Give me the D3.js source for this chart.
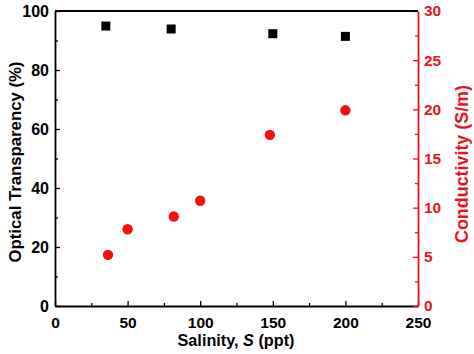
<!DOCTYPE html>
<html>
<head>
<meta charset="utf-8">
<script src="https://cdn.jsdelivr.net/npm/d3@7"></script>
<style>
  body { margin: 0; background: #fff; }
  text { font-family: "Liberation Sans", Arial, sans-serif; font-weight: bold; }
</style>
</head>
<body>
<svg id="chart" width="474" height="354"></svg>
<script>
const transSalinity = [35, 80, 150, 200];
const transparency = [94.9, 93.9, 92.3, 91.4];
const condSalinity = [36.5, 50, 81.8, 100, 148, 200];
const conductivity = [5.2, 7.8, 9.1, 10.7, 17.4, 19.9];
const xTicks = [0, 50, 100, 150, 200, 250];
const yLeftTicks = [0, 20, 40, 60, 80, 100];
const yRightTicks = [0, 5, 10, 15, 20, 25, 30];

const svg = d3.select("#chart");
const margin = { left: 55, right: 56, top: 11, bottom: 48 };
const width = 474 - margin.left - margin.right;
const height = 354 - margin.top - margin.bottom;
const red = "#e8141b";

const x = d3.scaleLinear().domain([0, 250]).range([0, width]);
const yL = d3.scaleLinear().domain([0, 100]).range([height, 0]);
const yR = d3.scaleLinear().domain([0, 30]).range([height, 0]);

const g = svg.append("g").attr("transform", `translate(${margin.left},${margin.top})`);

// minor ticks (no labels)
function minor(axis, scale, vals, color) {
  const a = g.append("g").call(axis(scale).tickValues(vals).tickSize(3).tickFormat(""));
  a.select(".domain").remove();
  a.selectAll("line").attr("stroke", color).attr("stroke-width", 1.3);
  return a;
}
minor(d3.axisTop, x, d3.range(25, 250, 50), "#000").attr("transform", `translate(0,${height})`);
minor(d3.axisRight, yL, d3.range(10, 100, 20), "#000");
minor(d3.axisLeft, yR, d3.range(2.5, 30, 5), red).attr("transform", `translate(${width},0)`);

const xAx = g.append("g").attr("transform", `translate(0,${height})`)
  .call(d3.axisBottom(x).tickValues(xTicks).tickSizeInner(-5).tickSizeOuter(0).tickPadding(11));
const yAx = g.append("g")
  .call(d3.axisLeft(yL).tickValues(yLeftTicks).tickSizeInner(-5).tickSizeOuter(0).tickPadding(6));
const yRAx = g.append("g").attr("transform", `translate(${width},0)`)
  .call(d3.axisRight(yR).tickValues(yRightTicks).tickSizeInner(-5).tickSizeOuter(0).tickPadding(6));

[xAx, yAx].forEach(a => {
  a.select(".domain").attr("stroke", "#000").attr("stroke-width", 1.8);
  a.selectAll(".tick line").attr("stroke", "#000").attr("stroke-width", 1.3);
  a.selectAll("text").attr("fill", "#000").style("font-size", "16px");
});
xAx.selectAll("text").style("font-size", "15.5px");
yRAx.select(".domain").attr("stroke", red).attr("stroke-width", 1.8);
yRAx.selectAll(".tick line").attr("stroke", red).attr("stroke-width", 1.3);
yRAx.selectAll("text").attr("fill", red).style("font-size", "15.5px");

// top border
g.append("line").attr("x1", 0).attr("x2", width).attr("y1", 0).attr("y2", 0)
  .attr("stroke", "#000").attr("stroke-width", 1.8);

// transparency squares
g.selectAll("rect.sq").data(transSalinity).enter().append("rect")
  .attr("class", "sq")
  .attr("x", d => x(d) - 4.5)
  .attr("y", (d, i) => yL(transparency[i]) - 4.5)
  .attr("width", 9).attr("height", 9)
  .attr("fill", "#000");

// conductivity circles
g.selectAll("circle").data(condSalinity).enter().append("circle")
  .attr("cx", d => x(d))
  .attr("cy", (d, i) => yR(conductivity[i]))
  .attr("r", 5.2)
  .attr("fill", "#f50f0f");

// fit a title to a target length
function fit(t, len) {
  t.style("font-size", "14px");
  const w = t.node().getComputedTextLength();
  t.style("font-size", (14 * len / w).toFixed(2) + "px");
}

const xt = svg.append("text")
  .attr("x", 236).attr("y", 346)
  .attr("text-anchor", "middle")
  .html('Salinity, <tspan font-style="italic">S</tspan> (ppt)');
fit(xt, 117);

const ylt = svg.append("text")
  .attr("transform", `translate(21,162) rotate(-90)`)
  .attr("text-anchor", "middle")
  .text("Optical Transparency (%)");
fit(ylt, 201);

const yrt = svg.append("text")
  .attr("transform", `translate(468,164) rotate(-90)`)
  .attr("text-anchor", "middle")
  .attr("fill", red)
  .text("Conductivity (S/m)");
fit(yrt, 158);
</script>
</body>
</html>
